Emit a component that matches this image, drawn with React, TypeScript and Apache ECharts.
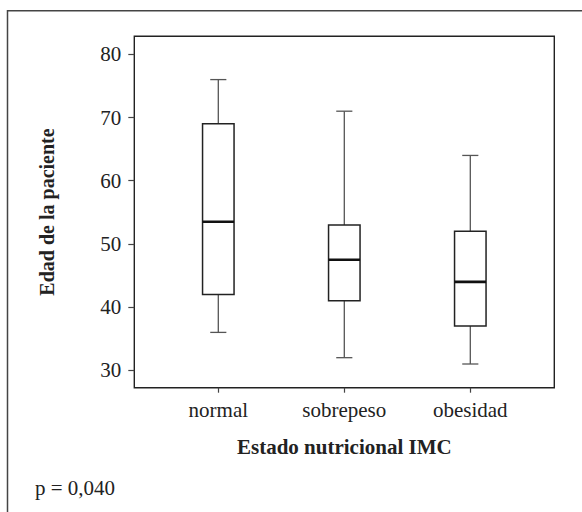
import React, { useEffect, useRef } from "react";
import * as echarts from "echarts";

const categories = ["normal", "sobrepeso", "obesidad"];
const boxLow = [36, 32, 31];
const boxQ1 = [42, 41, 37];
const boxMedian = [53.5, 47.5, 44];
const boxQ3 = [69, 53, 52];
const boxHigh = [76, 71, 64];
const yTicks = [30, 40, 50, 60, 70, 80];
const xTitle = "Estado nutricional IMC";
const yTitle = "Edad de la paciente";
const note = "p = 0,040";

const FONT = "'Liberation Serif', 'DejaVu Serif', serif";

export default function App() {
  const ref = useRef<HTMLDivElement>(null);
  useEffect(() => {
    if (!ref.current) return;
    const chart = echarts.init(ref.current, null, { renderer: "svg" });
    const data = categories.map((_, i) => [
      i + 1,
      boxLow[i],
      boxQ1[i],
      boxMedian[i],
      boxQ3[i],
      boxHigh[i],
    ]);
    chart.setOption({
      animation: false,
      backgroundColor: "#ffffff",
      textStyle: { fontFamily: FONT },
      grid: {
        left: 134.3,
        top: 36.3,
        right: 27.7,
        bottom: 124.3,
        show: true,
        borderColor: "#222",
        borderWidth: 1.4,
        backgroundColor: "transparent",
      },
      xAxis: {
        type: "value",
        min: 1 / 3,
        max: 11 / 3,
        splitLine: { show: false },
        axisLine: { show: false },
        axisTick: {
          show: true,
          customValues: [1, 2, 3],
          length: 5,
          lineStyle: { color: "#444", width: 1.2 },
        },
        axisLabel: {
          customValues: [1, 2, 3],
          formatter: (v: number) => categories[Math.round(v) - 1] ?? "",
          fontFamily: FONT,
          fontSize: 21,
          color: "#222",
          margin: 12,
        },
        name: xTitle,
        nameLocation: "middle",
        nameGap: 49,
        nameTextStyle: {
          fontFamily: FONT,
          fontSize: 21,
          fontWeight: "bold",
          color: "#222",
        },
      },
      yAxis: {
        type: "value",
        min: 27.25,
        max: 82.85,
        splitLine: { show: false },
        axisLine: { show: false },
        axisTick: {
          show: true,
          customValues: yTicks,
          length: 6,
          lineStyle: { color: "#444", width: 1.2 },
        },
        axisLabel: {
          customValues: yTicks,
          fontFamily: FONT,
          fontSize: 21,
          color: "#222",
          margin: 13,
        },
        name: yTitle,
        nameLocation: "middle",
        nameRotate: 90,
        nameGap: 77,
        nameTextStyle: {
          fontFamily: FONT,
          fontSize: 20,
          fontWeight: "bold",
          color: "#222",
        },
      },
      graphic: [
        {
          type: "polyline",
          shape: {
            points: [
              [7.5, 512],
              [7.5, 10.8],
              [582, 10.8],
            ],
          },
          style: { stroke: "#444", lineWidth: 1.5, fill: null },
          silent: true,
        },
        {
          type: "text",
          left: 35,
          top: 477,
          style: {
            text: note,
            font: `21px ${FONT}`,
            fill: "#222",
          },
        },
      ],
      series: [
        {
          type: "custom",
          data,
          encode: { x: 0, y: [1, 2, 3, 4, 5] },
          renderItem: (params: any, api: any) => {
            const x = api.value(0);
            const low = api.coord([x, api.value(1)]);
            const q1 = api.coord([x, api.value(2)]);
            const med = api.coord([x, api.value(3)]);
            const q3 = api.coord([x, api.value(4)]);
            const high = api.coord([x, api.value(5)]);
            const halfBox = api.size([0.125, 0])[0];
            const halfCap = api.size([0.064, 0])[0];
            const cx = low[0];
            const whisker = { stroke: "#555", lineWidth: 1.3 };
            return {
              type: "group",
              children: [
                {
                  type: "line",
                  shape: { x1: cx, y1: low[1], x2: cx, y2: q1[1] },
                  style: whisker,
                },
                {
                  type: "line",
                  shape: { x1: cx, y1: q3[1], x2: cx, y2: high[1] },
                  style: whisker,
                },
                {
                  type: "line",
                  shape: { x1: cx - halfCap, y1: low[1], x2: cx + halfCap, y2: low[1] },
                  style: whisker,
                },
                {
                  type: "line",
                  shape: { x1: cx - halfCap, y1: high[1], x2: cx + halfCap, y2: high[1] },
                  style: whisker,
                },
                {
                  type: "rect",
                  shape: {
                    x: cx - halfBox,
                    y: q3[1],
                    width: halfBox * 2,
                    height: q1[1] - q3[1],
                  },
                  style: { fill: "#fff", stroke: "#222", lineWidth: 1.5 },
                },
                {
                  type: "line",
                  shape: { x1: cx - halfBox, y1: med[1], x2: cx + halfBox, y2: med[1] },
                  style: { stroke: "#111", lineWidth: 2.6 },
                },
              ],
            };
          },
        },
      ],
    });
    return () => chart.dispose();
  }, []);
  return (
    <div
      ref={ref}
      style={{ position: "absolute", left: 0, top: 0, width: 582, height: 512 }}
    />
  );
}
